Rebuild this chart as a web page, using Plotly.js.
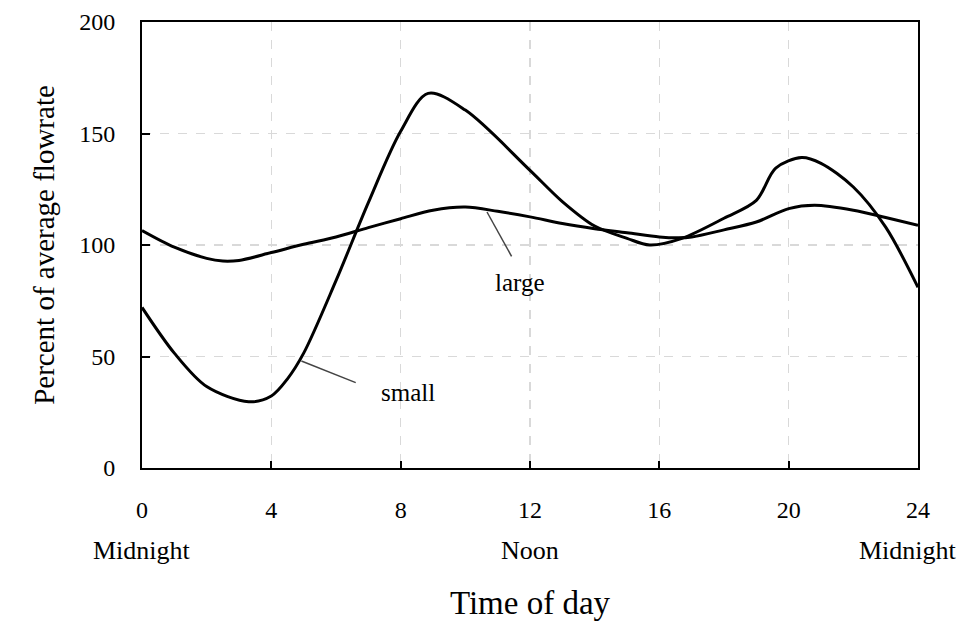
<!DOCTYPE html>
<html>
<head>
<meta charset="utf-8">
<script src="https://cdn.plot.ly/plotly-3.0.1.min.js"></script>
<style>html,body{margin:0;padding:0;background:#fff;}#chart{width:962px;height:621px;}</style>
</head>
<body>
<div id="chart"></div>
<script>
// Data
const hoursSmall = [0, 1, 2, 3.3, 4, 4.5, 5, 6, 7, 8, 8.85, 10, 12, 13, 14, 15, 15.7, 16.7, 18, 19, 19.6, 20.4, 21, 22, 23, 24];
const small      = [72, 51.5, 36.5, 29.7, 32.3, 40, 51.5, 84, 119, 151, 168, 160.5, 133.5, 119.5, 108.5, 103, 100, 103, 112, 120, 134.5, 139.2, 136.6, 126, 108, 81];
const hoursLarge = [0, 1, 2, 2.5, 3, 4, 5, 6, 7, 8, 9, 10, 11, 12, 13, 14, 15, 16, 16.6, 17, 18, 19, 20, 20.8, 22, 23, 24];
const large      = [106.5, 99, 94, 92.8, 93.1, 96.6, 100.3, 103.6, 107.8, 111.8, 115.6, 117, 115.1, 112.6, 109.6, 107.3, 105.5, 103.6, 103.2, 103.6, 106.8, 110.3, 116.3, 117.8, 115.6, 112.3, 108.8];
const xTicks = [0, 4, 8, 12, 16, 20, 24];
const yTicks = [0, 50, 100, 150, 200];
const dayLabels = [{x: 0, text: 'Midnight'}, {x: 12, text: 'Noon'}, {x: 24, text: 'Midnight'}];

const serif = '"Liberation Serif", "Times New Roman", Times, serif';

const traces = [
  {x: hoursSmall, y: small, mode: 'lines', name: 'small',
   line: {color: '#000', width: 3, shape: 'spline', smoothing: 0.9}, hoverinfo: 'x+y'},
  {x: hoursLarge, y: large, mode: 'lines', name: 'large',
   line: {color: '#000', width: 3, shape: 'spline', smoothing: 0.9}, hoverinfo: 'x+y'}
];

const annotations = dayLabels.map(d => ({
  x: d.x, y: 0, xref: 'x', yref: 'paper', text: d.text, showarrow: false,
  xanchor: 'center', yanchor: 'middle', yshift: -82, xshift: d.x === 24 ? -10 : 0,
  font: {family: serif, size: 26, color: '#000'}
}));
annotations.push(
  {x: 8.23, y: 34, xref: 'x', yref: 'y', text: 'small', showarrow: false,
   font: {family: serif, size: 25, color: '#000'}},
  {x: 11.68, y: 83.4, xref: 'x', yref: 'y', text: 'large', showarrow: false,
   font: {family: serif, size: 25, color: '#000'}}
);

const shapes = [
  {type: 'line', xref: 'x', yref: 'y', x0: 4.93, y0: 48, x1: 6.61, y1: 38.3,
   line: {color: '#444', width: 1.5}},
  {type: 'line', xref: 'x', yref: 'y', x0: 10.67, y0: 114.8, x1: 11.43, y1: 94.9,
   line: {color: '#444', width: 1.5}}
];

const layout = {
  width: 962, height: 621,
  margin: {l: 142, r: 44, t: 22, b: 153},
  paper_bgcolor: '#fff', plot_bgcolor: '#fff',
  showlegend: false,
  font: {family: serif, color: '#000'},
  xaxis: {
    range: [0, 24], tickvals: xTicks, ticktext: xTicks.map(String),
    ticks: 'inside', ticklen: 7, tickwidth: 2, tickcolor: '#000',
    showline: true, linecolor: '#000', linewidth: 2, mirror: true,
    showgrid: true, gridcolor: '#d9d9d9', gridwidth: 1.5, griddash: 'dash',
    zeroline: false, ticklabelstandoff: 19,
    tickfont: {family: serif, size: 24, color: '#000'},
    title: {text: 'Time of day', font: {family: serif, size: 33, color: '#000'}, standoff: 73}
  },
  yaxis: {
    range: [0, 200], tickvals: yTicks, ticktext: yTicks.map(String),
    ticks: 'inside', ticklen: 8, tickwidth: 2, tickcolor: '#000',
    showline: true, linecolor: '#000', linewidth: 2, mirror: true,
    showgrid: true, gridcolor: '#d9d9d9', gridwidth: 1.5, griddash: 'dash',
    zeroline: false, ticklabelstandoff: 20,
    tickfont: {family: serif, size: 24, color: '#000'},
    title: {text: 'Percent of average flowrate', font: {family: serif, size: 29, color: '#000'}, standoff: 16}
  },
  annotations: annotations,
  shapes: shapes
};

Plotly.newPlot('chart', traces, layout, {displayModeBar: false, staticPlot: true});
</script>
</body>
</html>
